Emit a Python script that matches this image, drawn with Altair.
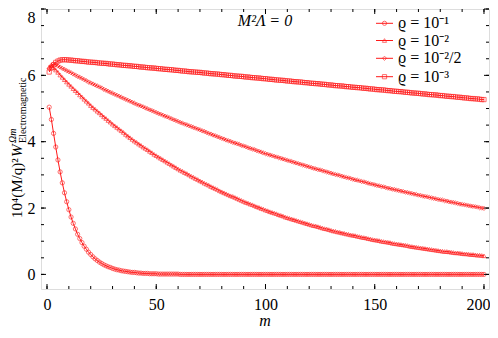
import altair as alt
import pandas as pd

# ---------------- data ----------------
m_values = list(range(1, 201))

series_labels = ["ϱ = 10⁻¹", "ϱ = 10⁻²", "ϱ = 10⁻²/2", "ϱ = 10⁻³"]
series_shapes = ["circle", "triangle-up", "diamond", "square"]

rho_1e_1 = [
    5.04, 4.67, 4.25, 3.84, 3.45, 3.09, 2.76, 2.46, 2.19, 1.95,
    1.73, 1.54, 1.37, 1.21, 1.08, 0.96, 0.85, 0.76, 0.67, 0.60,
    0.53, 0.47, 0.42, 0.37, 0.33, 0.29, 0.26, 0.23, 0.21, 0.18,
    0.16, 0.14, 0.13, 0.11, 0.10, 0.09, 0.08, 0.07, 0.06, 0.06,
    0.05, 0.04, 0.04, 0.03, 0.03, 0.03, 0.02, 0.02, 0.02, 0.02,
    0.01, 0.01, 0.01, 0.01, 0.01, 0.01, 0.01, 0.01, 0.01, 0.01,
    0.00, 0.00, 0.00, 0.00, 0.00, 0.00, 0.00, 0.00, 0.00, 0.00,
    0.00, 0.00, 0.00, 0.00, 0.00, 0.00, 0.00, 0.00, 0.00, 0.00,
    0.00, 0.00, 0.00, 0.00, 0.00, 0.00, 0.00, 0.00, 0.00, 0.00,
    0.00, 0.00, 0.00, 0.00, 0.00, 0.00, 0.00, 0.00, 0.00, 0.00,
    0.00, 0.00, 0.00, 0.00, 0.00, 0.00, 0.00, 0.00, 0.00, 0.00,
    0.00, 0.00, 0.00, 0.00, 0.00, 0.00, 0.00, 0.00, 0.00, 0.00,
    0.00, 0.00, 0.00, 0.00, 0.00, 0.00, 0.00, 0.00, 0.00, 0.00,
    0.00, 0.00, 0.00, 0.00, 0.00, 0.00, 0.00, 0.00, 0.00, 0.00,
    0.00, 0.00, 0.00, 0.00, 0.00, 0.00, 0.00, 0.00, 0.00, 0.00,
    0.00, 0.00, 0.00, 0.00, 0.00, 0.00, 0.00, 0.00, 0.00, 0.00,
    0.00, 0.00, 0.00, 0.00, 0.00, 0.00, 0.00, 0.00, 0.00, 0.00,
    0.00, 0.00, 0.00, 0.00, 0.00, 0.00, 0.00, 0.00, 0.00, 0.00,
    0.00, 0.00, 0.00, 0.00, 0.00, 0.00, 0.00, 0.00, 0.00, 0.00,
    0.00, 0.00, 0.00, 0.00, 0.00, 0.00, 0.00, 0.00, 0.00, 0.00,
]

rho_1e_2 = [
    6.25, 6.30, 6.23, 6.16, 6.09, 6.01, 5.94, 5.87, 5.80, 5.73,
    5.67, 5.60, 5.54, 5.48, 5.41, 5.35, 5.28, 5.22, 5.16, 5.09,
    5.03, 4.98, 4.92, 4.87, 4.81, 4.75, 4.70, 4.64, 4.59, 4.53,
    4.48, 4.43, 4.38, 4.33, 4.28, 4.22, 4.17, 4.12, 4.07, 4.02,
    3.98, 3.93, 3.89, 3.84, 3.80, 3.76, 3.71, 3.67, 3.62, 3.58,
    3.54, 3.50, 3.46, 3.42, 3.38, 3.34, 3.30, 3.26, 3.22, 3.18,
    3.14, 3.11, 3.07, 3.04, 3.00, 2.96, 2.93, 2.89, 2.86, 2.82,
    2.79, 2.75, 2.72, 2.69, 2.65, 2.62, 2.59, 2.56, 2.52, 2.49,
    2.46, 2.43, 2.40, 2.37, 2.35, 2.32, 2.29, 2.26, 2.23, 2.20,
    2.17, 2.15, 2.12, 2.10, 2.07, 2.04, 2.02, 1.99, 1.97, 1.94,
    1.92, 1.89, 1.87, 1.85, 1.83, 1.80, 1.78, 1.76, 1.73, 1.71,
    1.69, 1.67, 1.65, 1.63, 1.61, 1.59, 1.57, 1.55, 1.53, 1.51,
    1.49, 1.47, 1.46, 1.44, 1.42, 1.40, 1.38, 1.37, 1.35, 1.33,
    1.31, 1.30, 1.28, 1.27, 1.25, 1.24, 1.22, 1.21, 1.19, 1.18,
    1.17, 1.15, 1.14, 1.12, 1.11, 1.10, 1.08, 1.07, 1.05, 1.04,
    1.03, 1.02, 1.00, 0.99, 0.98, 0.97, 0.96, 0.94, 0.93, 0.92,
    0.91, 0.90, 0.89, 0.88, 0.87, 0.85, 0.84, 0.83, 0.82, 0.81,
    0.80, 0.79, 0.78, 0.77, 0.76, 0.75, 0.74, 0.73, 0.72, 0.71,
    0.70, 0.69, 0.69, 0.68, 0.67, 0.66, 0.65, 0.65, 0.64, 0.63,
    0.62, 0.62, 0.61, 0.60, 0.60, 0.59, 0.58, 0.58, 0.57, 0.56,
]

rho_1e_2_half = [
    6.20, 6.30, 6.35, 6.32, 6.28, 6.25, 6.21, 6.18, 6.14, 6.11,
    6.08, 6.04, 6.01, 5.97, 5.94, 5.91, 5.87, 5.84, 5.80, 5.77,
    5.74, 5.71, 5.68, 5.65, 5.62, 5.58, 5.55, 5.52, 5.49, 5.46,
    5.43, 5.40, 5.37, 5.34, 5.31, 5.28, 5.25, 5.22, 5.19, 5.16,
    5.13, 5.10, 5.08, 5.05, 5.02, 4.99, 4.96, 4.94, 4.91, 4.88,
    4.85, 4.83, 4.80, 4.77, 4.75, 4.72, 4.69, 4.66, 4.64, 4.61,
    4.58, 4.56, 4.53, 4.51, 4.48, 4.46, 4.43, 4.41, 4.38, 4.36,
    4.33, 4.31, 4.28, 4.25, 4.23, 4.20, 4.18, 4.15, 4.13, 4.10,
    4.08, 4.05, 4.03, 4.01, 3.98, 3.96, 3.94, 3.92, 3.89, 3.87,
    3.85, 3.82, 3.80, 3.78, 3.76, 3.73, 3.71, 3.69, 3.66, 3.64,
    3.62, 3.60, 3.58, 3.56, 3.54, 3.52, 3.50, 3.48, 3.46, 3.44,
    3.42, 3.40, 3.38, 3.36, 3.34, 3.32, 3.30, 3.28, 3.26, 3.24,
    3.22, 3.20, 3.18, 3.16, 3.15, 3.13, 3.11, 3.09, 3.07, 3.05,
    3.03, 3.01, 3.00, 2.98, 2.96, 2.94, 2.92, 2.91, 2.89, 2.87,
    2.85, 2.84, 2.82, 2.80, 2.79, 2.77, 2.75, 2.73, 2.72, 2.70,
    2.68, 2.67, 2.65, 2.64, 2.62, 2.60, 2.59, 2.57, 2.56, 2.54,
    2.53, 2.51, 2.50, 2.48, 2.47, 2.45, 2.44, 2.42, 2.41, 2.39,
    2.38, 2.36, 2.35, 2.34, 2.32, 2.31, 2.29, 2.28, 2.26, 2.25,
    2.24, 2.22, 2.21, 2.19, 2.18, 2.17, 2.15, 2.14, 2.12, 2.11,
    2.10, 2.09, 2.07, 2.06, 2.05, 2.04, 2.03, 2.01, 2.00, 1.99,
]

rho_1e_3 = [
    6.10, 6.22, 6.32, 6.39, 6.43, 6.46, 6.47, 6.47, 6.47, 6.46,
    6.46, 6.45, 6.44, 6.44, 6.43, 6.42, 6.42, 6.41, 6.40, 6.40,
    6.39, 6.39, 6.38, 6.37, 6.37, 6.36, 6.36, 6.35, 6.34, 6.34,
    6.33, 6.32, 6.32, 6.31, 6.30, 6.30, 6.29, 6.29, 6.28, 6.27,
    6.27, 6.26, 6.25, 6.25, 6.24, 6.23, 6.23, 6.22, 6.22, 6.21,
    6.20, 6.20, 6.19, 6.18, 6.18, 6.17, 6.17, 6.16, 6.15, 6.15,
    6.14, 6.13, 6.13, 6.12, 6.11, 6.11, 6.10, 6.10, 6.09, 6.09,
    6.08, 6.07, 6.07, 6.06, 6.05, 6.05, 6.04, 6.04, 6.03, 6.02,
    6.02, 6.01, 6.00, 6.00, 5.99, 5.98, 5.98, 5.97, 5.97, 5.96,
    5.95, 5.95, 5.94, 5.93, 5.93, 5.92, 5.92, 5.91, 5.90, 5.90,
    5.89, 5.88, 5.88, 5.87, 5.86, 5.86, 5.85, 5.85, 5.84, 5.83,
    5.83, 5.82, 5.81, 5.81, 5.80, 5.80, 5.79, 5.78, 5.78, 5.77,
    5.76, 5.76, 5.75, 5.75, 5.74, 5.73, 5.73, 5.72, 5.71, 5.71,
    5.70, 5.69, 5.69, 5.68, 5.68, 5.67, 5.66, 5.66, 5.65, 5.64,
    5.64, 5.63, 5.63, 5.62, 5.61, 5.61, 5.60, 5.59, 5.59, 5.58,
    5.57, 5.57, 5.56, 5.56, 5.55, 5.54, 5.54, 5.53, 5.52, 5.52,
    5.51, 5.51, 5.50, 5.49, 5.49, 5.48, 5.47, 5.47, 5.46, 5.46,
    5.45, 5.44, 5.44, 5.43, 5.42, 5.42, 5.41, 5.41, 5.40, 5.39,
    5.39, 5.38, 5.37, 5.37, 5.36, 5.36, 5.35, 5.34, 5.34, 5.33,
    5.32, 5.32, 5.31, 5.30, 5.30, 5.29, 5.29, 5.28, 5.27, 5.27,
]

x_major_ticks = [0, 50, 100, 150, 200]
x_minor_ticks = list(range(0, 201, 10))
y_major_ticks = [0, 2, 4, 6, 8]
y_minor_ticks = [i * 0.5 for i in range(17)]

annotation_text = "M²Λ = 0"

# ---------------- layout ----------------
W, H = 448, 280
RED = "#ff1a1a"
FONT = "Liberation Serif"

rows = []
for lbl, vals in zip(series_labels, [rho_1e_1, rho_1e_2, rho_1e_2_half, rho_1e_3]):
    for m, v in zip(m_values, vals):
        rows.append({"m": m, "v": v, "series": lbl})
df = pd.DataFrame(rows)

xscale = alt.Scale(domain=[-2.75, 202.3], nice=False, zero=False)
yscale = alt.Scale(domain=[-0.44, 8.0], nice=False, zero=False)

x_axis = alt.Axis(values=x_major_ticks, ticks=False, domain=False, grid=False,
                  labelFont=FONT, labelFontSize=16, labelColor="black",
                  labelPadding=7, title=None,
                  labelAlign={"condition": {"test": "datum.value >= 200", "value": "right"},
                              "value": "center"},
                  labelOffset={"condition": {"test": "datum.value >= 200", "value": 6},
                               "value": 0})
y_axis = alt.Axis(values=y_major_ticks, ticks=False, domain=False, grid=False,
                  labelFont=FONT, labelFontSize=16, labelColor="black",
                  labelPadding=6, labelFlush=True, title=None)


def X(field):
    return alt.X(field, scale=xscale, axis=x_axis)


def Y(field):
    return alt.Y(field, scale=yscale, axis=y_axis)


shape_enc = alt.Shape("series:N", scale=alt.Scale(domain=series_labels, range=series_shapes),
                      legend=None)

lines = alt.Chart(df).mark_line(color=RED, strokeWidth=1).encode(
    x=X("m:Q"), y=Y("v:Q"), detail="series:N")
points = alt.Chart(df).mark_point(color=RED, filled=False, strokeWidth=0.9, size=18).encode(
    x=X("m:Q"), y=Y("v:Q"), shape=shape_enc)

layers = [lines, points]


# tick marks (inward) on all four sides
def xticks(vals, length):
    d = pd.DataFrame({"t": vals})
    bottom = alt.Chart(d).mark_rule(color="black", strokeWidth=1).encode(
        x=X("t:Q"), y=alt.value(H), y2=alt.value(H - length))
    top = alt.Chart(d).mark_rule(color="black", strokeWidth=1).encode(
        x=X("t:Q"), y=alt.value(0), y2=alt.value(length))
    return [bottom, top]


def yticks(vals, length):
    d = pd.DataFrame({"t": vals})
    left = alt.Chart(d).mark_rule(color="black", strokeWidth=1).encode(
        y=Y("t:Q"), x=alt.value(0), x2=alt.value(length))
    right = alt.Chart(d).mark_rule(color="black", strokeWidth=1).encode(
        y=Y("t:Q"), x=alt.value(W), x2=alt.value(W - length))
    return [left, right]


layers += xticks(x_minor_ticks, 3) + xticks(x_major_ticks, 5)
layers += yticks(y_minor_ticks, 3) + yticks(y_major_ticks, 5)


def text_layer(txt, x, y, size=16, style="normal", angle=0, align="center", baseline="middle"):
    return alt.Chart(pd.DataFrame({"t": [txt]})).mark_text(
        font=FONT, fontSize=size, fontStyle=style, color="black", angle=angle,
        align=align, baseline=baseline).encode(text="t:N", x=alt.value(x), y=alt.value(y))


# annotation and axis titles
layers.append(text_layer(annotation_text, 224, 12, size=16, style="italic"))
layers.append(text_layer("m", 224, 312, size=16, style="italic"))
layers.append(text_layer("10⁴(M/q)²", -24, 209, size=15, angle=270, align="left"))
layers.append(text_layer("W", -24, 148, size=15, style="italic", angle=270, align="left"))
layers.append(text_layer("Ωm", -28, 134, size=10, style="italic", angle=270, align="left"))
layers.append(text_layer("Electromagnetic", -18, 134, size=10, angle=270, align="left"))

# legend
legend_y = [14.3, 31.5, 49.3, 67.7]
for lbl, shp, ly in zip(series_labels, series_shapes, legend_y):
    d = pd.DataFrame({"t": [lbl]})
    layers.append(alt.Chart(d).mark_rule(color=RED, strokeWidth=1).encode(
        x=alt.value(335), x2=alt.value(352), y=alt.value(ly)))
    layers.append(alt.Chart(d).mark_point(color=RED, filled=False, strokeWidth=0.9, size=18,
                                          shape=shp).encode(
        x=alt.value(343.5), y=alt.value(ly)))
    layers.append(text_layer(lbl, 357, ly, size=16, align="left"))

chart = alt.layer(*layers).properties(
    width=W, height=H,
    autosize=alt.AutoSizeParams(type="none"),
    padding={"left": 33, "top": 1, "right": 1, "bottom": 39},
).configure_view(stroke="black", strokeWidth=1).configure(background="white")

chart.save("out.html", embed_options={"renderer": "svg", "actions": False})
